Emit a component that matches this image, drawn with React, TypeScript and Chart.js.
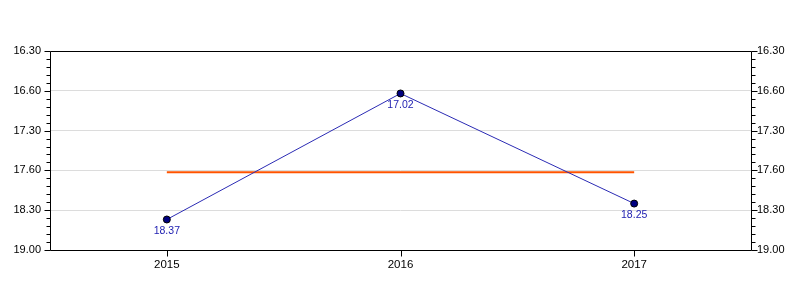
import React, { useEffect, useRef } from 'react';
import { Chart, registerables } from 'chart.js';
Chart.register(...registerables);

const categories = ['2015', '2016', '2017'];
// times in seconds (18.37 = 18 min 37 s, etc.)
const timesSeconds = [1117, 1022, 1105];
const yTickValues = [990, 1020, 1050, 1080, 1110, 1140];
const yTickLabels = ['16.30', '16.60', '17.30', '17.60', '18.30', '19.00'];
const yMinorStep = 6;

const meanValue = timesSeconds.reduce((a, b) => a + b, 0) / timesSeconds.length;
const meanValues = categories.map(() => meanValue);

const fmt = (v: number) => `${Math.floor(v / 60)}.${String(v % 60).padStart(2, '0')}`;
const FONT = 'Liberation Sans, Arial, sans-serif';

const framePlugin = {
  id: 'frame',
  afterDraw(chart: any) {
    const { ctx, chartArea } = chart;
    const ys = chart.scales.y;
    const xs = chart.scales.x;
    const L = Math.round(chartArea.left) + 0.5;
    const R = Math.round(chartArea.right) + 0.5;
    const T = Math.round(chartArea.top) + 0.5;
    const B = Math.round(chartArea.bottom) + 0.5;
    ctx.save();
    ctx.strokeStyle = '#000';
    ctx.lineWidth = 1;
    ctx.beginPath();
    ctx.rect(L, T, R - L, B - T);
    const min = yTickValues[0];
    const max = yTickValues[yTickValues.length - 1];
    for (let v = min; v <= max; v += yMinorStep) {
      const major = yTickValues.includes(v);
      const len = major ? 6 : 4;
      const p = Math.round(ys.getPixelForValue(v)) + 0.5;
      ctx.moveTo(L - len, p);
      ctx.lineTo(L, p);
      ctx.moveTo(R, p);
      ctx.lineTo(R + len, p);
    }
    categories.forEach((_, i) => {
      const p = Math.round(xs.getPixelForValue(i)) + 0.5;
      ctx.moveTo(p, B);
      ctx.lineTo(p, B + 6);
    });
    ctx.stroke();
    ctx.restore();
  },
  afterDatasetsDraw(chart: any) {
    const { ctx } = chart;
    const meta = chart.getDatasetMeta(0);
    ctx.save();
    ctx.fillStyle = '#1c1cb0';
    ctx.font = `10.5px ${FONT}`;
    ctx.textAlign = 'center';
    ctx.textBaseline = 'top';
    meta.data.forEach((pt: any, i: number) => {
      ctx.fillText(fmt(timesSeconds[i]), pt.x, pt.y + 6);
    });
    ctx.restore();
  },
};

export default function App() {
  const ref = useRef<HTMLCanvasElement>(null);
  useEffect(() => {
    if (!ref.current) return;
    const chart = new Chart(ref.current, {
      type: 'line',
      data: {
        labels: categories,
        datasets: [
          {
            label: 'Time',
            data: timesSeconds,
            borderColor: '#2b2bb4',
            borderWidth: 1,
            backgroundColor: '#000080',
            pointBackgroundColor: '#000080',
            pointBorderColor: '#000000',
            pointBorderWidth: 1,
            pointRadius: 3.5,
            tension: 0,
            fill: false,
          },
          {
            label: 'Mean',
            data: meanValues,
            borderColor: '#ff5400',
            borderWidth: 2,
            pointRadius: 0,
            fill: false,
          },
        ],
      },
      options: {
        animation: false,
        responsive: false,
        events: [],
        layout: { padding: { top: 51, left: 0, right: 0, bottom: 0 } },
        plugins: { legend: { display: false }, tooltip: { enabled: false } },
        scales: {
          x: {
            type: 'category',
            offset: true,
            grid: { display: false, drawTicks: false },
            border: { display: false },
            ticks: { color: '#000', font: { family: FONT, size: 11.5 }, padding: 8 },
            afterFit: (s: any) => { s.height = 50; },
          },
          y: {
            type: 'linear',
            position: 'left',
            reverse: true,
            min: yTickValues[0],
            max: yTickValues[yTickValues.length - 1],
            afterBuildTicks: (s: any) => { s.ticks = yTickValues.map((v) => ({ value: v })); },
            grid: {
              drawTicks: false,
              color: (c: any) => {
                const v = c.tick ? c.tick.value : null;
                if (v === yTickValues[0] || v === yTickValues[yTickValues.length - 1]) return 'rgba(0,0,0,0)';
                return '#dcdcdc';
              },
            },
            border: { display: false },
            ticks: {
              color: '#000',
              font: { family: FONT, size: 11 },
              padding: 9,
              autoSkip: false,
              callback: (v: any) => yTickLabels[yTickValues.indexOf(Number(v))] ?? '',
            },
            afterFit: (s: any) => { s.width = 50; },
          },
          y2: {
            type: 'linear',
            position: 'right',
            reverse: true,
            min: yTickValues[0],
            max: yTickValues[yTickValues.length - 1],
            afterBuildTicks: (s: any) => { s.ticks = yTickValues.map((v) => ({ value: v })); },
            grid: { display: false, drawTicks: false },
            border: { display: false },
            ticks: {
              color: '#000',
              font: { family: FONT, size: 11 },
              padding: 6,
              autoSkip: false,
              callback: (v: any) => yTickLabels[yTickValues.indexOf(Number(v))] ?? '',
            },
            afterFit: (s: any) => { s.width = 49; },
          },
        },
      },
      plugins: [framePlugin],
    });
    return () => chart.destroy();
  }, []);
  return (
    <div style={{ position: 'fixed', left: 0, top: 0, width: 800, height: 300, background: '#fff' }}>
      <canvas ref={ref} width={800} height={300} />
    </div>
  );
}
